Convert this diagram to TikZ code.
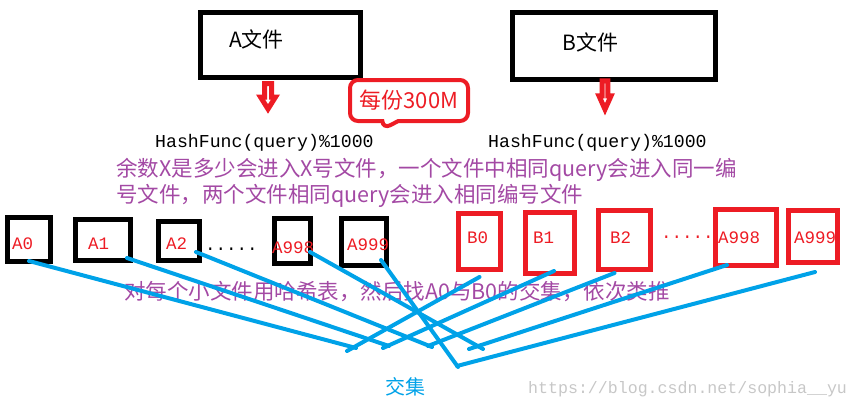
\documentclass[tikz,border=0pt]{standalone}
\usepackage{fontspec}
\newfontfamily\cjk{Noto Sans CJK SC}
\setmonofont{Liberation Mono}
\usetikzlibrary{shapes.callouts}
\definecolor{paintred}{RGB}{237,28,36}
\definecolor{paintblue}{RGB}{0,162,232}
\definecolor{paintpurple}{RGB}{163,73,164}
\begin{document}
\begin{tikzpicture}[x=1pt, y=-1pt,
  filebox/.style={draw=black, line width=5pt, inner sep=0pt},
  smallbox/.style={draw=#1, line width=5pt, inner sep=0pt},
  txt/.style={anchor=base west, inner sep=0pt},
  cn/.style={font=\cjk\fontsize{#1}{#1}\selectfont},
  mono/.style={font=\ttfamily\fontsize{#1}{#1}\selectfont},
  link/.style={draw=paintblue, line width=4pt, line cap=round},
  downarr/.pic={\draw[draw=paintred, line width=5pt, fill=white] (-3.5,2.5) -- (-3.5,16) -- (-7.5,16) -- (0,28) -- (7.5,16) -- (3.5,16) -- (3.5,2.5) -- cycle;}]
\useasboundingbox (0,0) rectangle (859,408);
\node [filebox, minimum width=160pt, minimum height=65pt] (fa) at (280.5,45) {};
\node [filebox, minimum width=203pt, minimum height=67pt] (fb) at (614,46) {};
\node [txt, cn=21] (fatxt) at (229,47) {A文件};
\node [txt, cn=21] (fbtxt) at (562,50) {B文件};
\pic (arra) at (268,81) {downarr};
\pic [xscale=0.8, yscale=1.12] (arrb) at (605,78) {downarr};
\node [rectangle callout, draw=paintred, line width=4pt, rounded corners=8pt,
  minimum width=118pt, minimum height=41pt, callout absolute pointer={(383,129)},
  callout pointer width=16pt, text=paintred, cn=22] (share) at (409,100.5) {每份300M};
\node [txt, mono=18.2] (hasha) at (155,147) {HashFunc(query)\%1000};
\node [txt, mono=18.2] (hashb) at (488,147) {HashFunc(query)\%1000};
\node [txt, cn=21.5, text=paintpurple] (rule1) at (116,176) {余数X是多少会进入X号文件，一个文件中相同query会进入同一编};
\node [txt, cn=21.5, text=paintpurple] (rule2) at (116,202) {号文件，两个文件相同query会进入相同编号文件};
\node [smallbox=black, minimum width=43pt, minimum height=44pt] (a0) at (29,239.5) {};
\node [smallbox=black, minimum width=55pt, minimum height=41pt] (a1) at (103,240) {};
\node [smallbox=black, minimum width=41pt, minimum height=39pt] (a2) at (179,241) {};
\node [smallbox=black, minimum width=36pt, minimum height=45pt] (a998) at (292.5,241) {};
\node [smallbox=black, minimum width=45pt, minimum height=47pt] (a999) at (364,242) {};
\node [smallbox=paintred, minimum width=42pt, minimum height=56pt] (b0) at (479.5,241.5) {};
\node [smallbox=paintred, minimum width=49pt, minimum height=61pt] (b1) at (550,243) {};
\node [smallbox=paintred, minimum width=52pt, minimum height=59pt] (b2) at (624.5,240) {};
\node [smallbox=paintred, minimum width=61pt, minimum height=56pt] (b998) at (746,237.5) {};
\node [smallbox=paintred, minimum width=49pt, minimum height=52pt] (b999) at (813,236.5) {};
\node [txt, mono=17.5, text=paintred] (la0) at (12,249) {A0};
\node [txt, mono=17.5, text=paintred] (la1) at (88,249) {A1};
\node [txt, mono=17.5, text=paintred] (la2) at (166,249) {A2};
\node [txt, mono=17.5] (adots) at (205,250) {.....};
\node [txt, mono=17.5, text=paintred] (la998) at (272,253) {A998};
\node [txt, mono=17.5, text=paintred] (la999) at (347,250) {A999};
\node [txt, mono=17.5, text=paintred] (lb0) at (467,243) {B0};
\node [txt, mono=17.5, text=paintred] (lb1) at (533,243) {B1};
\node [txt, mono=17.5, text=paintred] (lb2) at (610,243) {B2};
\node [txt, mono=17.5, text=paintred] (bdots) at (661,238) {.....};
\node [txt, mono=17.5, text=paintred] (lb998) at (718,243) {A998};
\node [txt, mono=17.5, text=paintred] (lb999) at (794,243) {A999};
\node [txt, cn=21.5, text=paintpurple] (rule3) at (124,299) {对每个小文件用哈希表，然后找A0与B0的交集，依次类推};
\coordinate (e0a) at (356,348);
\coordinate (e0b) at (347,351);
\coordinate (e1a) at (389,346);
\coordinate (e1b) at (383,348);
\coordinate (e2a) at (432,347);
\coordinate (e2b) at (428,346);
\coordinate (e3a) at (483,349);
\coordinate (e3b) at (469,349);
\coordinate (e4a) at (458,367);
\coordinate (e4b) at (457,366);
\draw [link] ([shift={(0,-3)}]a0.south) -- (e0a);
\draw [link] ([shift={(-6,-5)}]a1.south east) -- (e1a);
\draw [link] ([shift={(-6,11)}]a2.east) -- (e2a);
\draw [link] ([shift={(-3,11)}]a998.east) -- (e3a);
\draw [link] ([shift={(-8,-8)}]a999.south east) -- (e4a);
\draw [link] ([shift={(0,5)}]b0.south) -- (e0b);
\draw [link] ([shift={(4,-5)}]b1.south) -- (e1b);
\draw [link] ([shift={(-10,1)}]b2.south) -- (e2b);
\draw [link] ([shift={(-19,-3)}]b998.south) -- (e3b);
\draw [link] ([shift={(2,7)}]b999.south) -- (e4b);
\node [txt, cn=20, text=paintblue] (inter) at (385,394) {交集};
\node [txt, mono=16.6, text=black!22] (mark) at (528,393) {https://blog.csdn.net/sophia\_\_yu};
\end{tikzpicture}
\end{document}
